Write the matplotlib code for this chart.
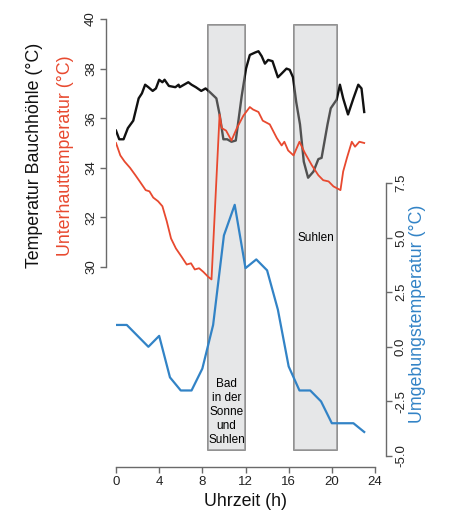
import matplotlib
matplotlib.use("Agg")
import matplotlib.pyplot as plt
import matplotlib.transforms as mtransforms

plt.rcParams["font.family"] = ["Liberation Sans", "DejaVu Sans"]

# Körpertemperatur (Bauchhöhle), schwarz
cavity_x = [0.0, 0.3, 0.7, 1.1, 1.6, 2.1, 2.4, 2.7, 3.0, 3.4, 3.7, 4.0, 4.3, 4.5, 4.9,
            5.5, 5.8, 5.9, 6.3, 6.7, 7.0, 7.4, 7.9, 8.3, 8.7, 9.3, 9.6, 9.95, 10.3, 10.7,
            11.1, 11.65, 12.05, 12.4, 12.9, 13.2, 13.5, 13.8, 14.1, 14.5, 15.0, 15.35,
            15.8, 16.1, 16.4, 16.7, 17.05, 17.4, 17.8, 18.3, 18.75, 19.05, 19.6, 19.9,
            20.45, 20.75, 21.05, 21.5, 22.0, 22.45, 22.75, 23.0]
cavity_t = [35.5, 35.15, 35.15, 35.6, 35.9, 36.8, 37.0, 37.35, 37.25, 37.1, 37.2, 37.55,
            37.45, 37.55, 37.3, 37.25, 37.35, 37.25, 37.35, 37.45, 37.35, 37.25, 37.1,
            37.2, 37.05, 36.8, 36.15, 35.15, 35.15, 35.05, 35.1, 36.9, 38.0, 38.55,
            38.65, 38.7, 38.5, 38.2, 38.35, 38.3, 37.65, 37.8, 38.0, 37.95, 37.65, 36.65,
            35.75, 34.25, 33.6, 33.85, 34.35, 34.4, 35.75, 36.4, 36.75, 37.35, 36.8,
            36.15, 36.8, 37.35, 37.2, 36.25]

# Unterhauttemperatur, rot
skin_x = [0.0, 0.4, 0.8, 1.3, 1.8, 2.2, 2.75, 3.1, 3.45, 3.9, 4.3, 4.7, 5.1, 5.55, 6.1,
          6.55, 6.95, 7.3, 7.7, 8.1, 8.55, 8.85, 9.6, 9.8, 10.2, 10.7, 11.2, 11.8, 12.4,
          12.7, 13.2, 13.6, 14.25, 14.9, 15.35, 15.6, 15.95, 16.45, 17.0, 17.5, 18.15,
          18.75, 19.2, 19.7, 20.15, 20.8, 21.05, 21.4, 21.85, 22.15, 22.55, 23.0]
skin_t = [35.0, 34.5, 34.25, 34.0, 33.7, 33.45, 33.1, 33.05, 32.8, 32.65, 32.45, 31.85,
          31.15, 30.75, 30.4, 30.1, 30.15, 29.9, 29.95, 29.8, 29.6, 29.5, 36.15, 35.6,
          35.5, 35.1, 35.6, 36.1, 36.45, 36.35, 36.25, 35.9, 35.75, 35.2, 34.9, 35.05,
          34.7, 34.5, 35.05, 34.6, 34.1, 33.7, 33.5, 33.45, 33.25, 33.1, 33.85, 34.4,
          35.05, 34.85, 35.05, 35.0]

# Umgebungstemperatur, blau (stündlich)
air_x = list(range(24))
air_t = [1.0, 1.0, 0.5, 0.0, 0.5, -1.4, -2.0, -2.0, -1.0, 1.0, 5.1, 6.5, 3.6, 4.0, 3.5,
         1.7, -0.9, -2.0, -2.0, -2.5, -3.5, -3.5, -3.5, -3.9]

# Verhaltensphasen
phase_start = [8.5, 16.5]
phase_end = [12.0, 20.5]
phase_labels = ["Bad\nin der\nSonne\nund\nSuhlen", "Suhlen"]

left_ticks = [30, 32, 34, 36, 38, 40]
right_ticks = [-5.0, -2.5, 0.0, 2.5, 5.0, 7.5]
x_ticks = [0, 4, 8, 12, 16, 20, 24]

black = "#111111"
red = "#e8492f"
blue = "#3283c6"
axis_grey = "#6a6a6a"

fig = plt.figure(figsize=(4.53, 5.14), dpi=100)
ax1 = fig.add_axes([116 / 453, 54 / 514, 259 / 453, 445 / 514])
ax1.set_xlim(0, 24)
ax1.set_ylim(22.218, 40.161)

# grey boxes
for s, e in zip(phase_start, phase_end):
    ax1.axvspan(s, e, ymin=0.0225, ymax=0.9775, facecolor="#e6e7e8",
                edgecolor="#7d7d7d", linewidth=1.2, zorder=1)

ax1.plot(cavity_x, cavity_t, color=black, linewidth=1.7, zorder=2,
         solid_joinstyle="round")

# soften the black line inside the boxes
for s, e in zip(phase_start, phase_end):
    ax1.axvspan(s, e, ymin=0.0225, ymax=0.9775, facecolor="#e6e7e8",
                edgecolor="none", alpha=0.3, zorder=3)

ax1.plot(skin_x, skin_t, color=red, linewidth=1.3, zorder=4)

trans = mtransforms.blended_transform_factory(ax1.transData, ax1.transAxes)
ax1.text((phase_start[0] + phase_end[0]) / 2, 0.108, phase_labels[0], transform=trans,
         ha="center", va="center", fontsize=8.5, linespacing=1.2, zorder=5)
ax1.text((phase_start[1] + phase_end[1]) / 2, 0.499, phase_labels[1], transform=trans,
         ha="center", va="center", fontsize=8.5, zorder=5)

ax2 = ax1.twinx()
ax2.set_ylim(-5.183, 15.19)
ax2.plot(air_x, air_t, color=blue, linewidth=1.6, zorder=4)

# spines in R style
for side in ["top", "right"]:
    ax1.spines[side].set_visible(False)
for side in ["top", "left", "bottom"]:
    ax2.spines[side].set_visible(False)

ax1.spines["left"].set_position(("outward", 7.2))
ax1.spines["left"].set_bounds(30, 40)
ax1.spines["bottom"].set_position(("outward", 5.0))
ax1.spines["bottom"].set_bounds(0, 24)
ax2.spines["right"].set_position(("outward", 7.9))
ax2.spines["right"].set_bounds(-5, 7.5)
for sp in [ax1.spines["left"], ax1.spines["bottom"], ax2.spines["right"]]:
    sp.set_color(axis_grey)
    sp.set_linewidth(1.0)

ax1.set_yticks(left_ticks)
ax1.set_yticklabels([str(t) for t in left_ticks], rotation=90, va="center")
ax1.set_xticks(x_ticks)
ax1.set_xticklabels([str(t) for t in x_ticks])
ax2.set_yticks(right_ticks)
ax2.set_yticklabels(["%.1f" % t for t in right_ticks], rotation=90, va="center")

ax1.tick_params(axis="both", length=4, width=1.0, color=axis_grey, labelsize=9.5,
                labelcolor="#222222", pad=2.5)
ax2.tick_params(axis="y", length=4, width=1.0, color=axis_grey, labelsize=9.5,
                labelcolor="#222222", pad=2.5)

# axis titles
fig.text(35 / 453, 1 - 155 / 514, "Temperatur Bauchhöhle (°C)", rotation=90,
         ha="center", va="center", fontsize=12.8, color=black)
fig.text(65 / 453, 1 - 156 / 514, "Unterhauttemperatur (°C)", rotation=90,
         ha="center", va="center", fontsize=12.8, color=red)
fig.text(418 / 453, 1 - 314 / 514, "Umgebungstemperatur (°C)", rotation=90,
         ha="center", va="center", fontsize=12.8, color=blue)
fig.text(245 / 453, 1 - 502 / 514, "Uhrzeit (h)", ha="center", va="center",
         fontsize=12.8, color=black)

fig.savefig("out.png", dpi=100)
